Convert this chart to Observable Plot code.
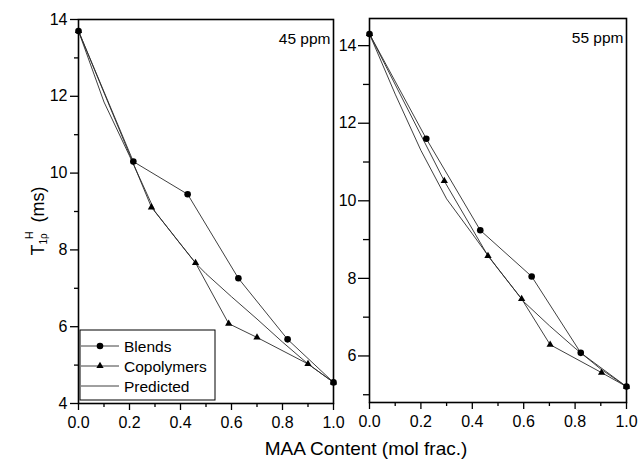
<!DOCTYPE html>
<html><head><meta charset="utf-8">
<script src="https://cdn.jsdelivr.net/npm/d3@7"></script>
<script src="https://cdn.jsdelivr.net/npm/@observablehq/plot@0.6"></script>
<style>
html,body{margin:0;padding:0;background:#fff;}
#wrap{position:relative;width:639px;height:461px;overflow:hidden;font-family:"Liberation Sans",Arial,sans-serif;}
#wrap > svg{position:absolute;}
</style></head><body><div id="wrap"></div>
<script>
// ---- data: 45 ppm panel ----
const xBlends45 = [0, 0.215, 0.428, 0.627, 0.82, 1.0];
const yBlends45 = [13.7, 10.3, 9.45, 7.26, 5.67, 4.55];
const xCopol45  = [0, 0.286, 0.459, 0.589, 0.70, 0.90, 1.0];
const yCopol45  = [13.7, 9.11, 7.66, 6.08, 5.72, 5.03, 4.55];
const xPred45   = [0, 0.1, 0.2, 0.3, 0.4, 0.46, 0.5, 0.6, 0.7, 0.8, 0.9, 1.0];
const yPred45   = [13.7, 11.85, 10.45, 9.0, 8.15, 7.65, 7.38, 6.78, 6.2, 5.6, 5.03, 4.55];
// ---- data: 55 ppm panel ----
const xBlends55 = [0, 0.221, 0.431, 0.631, 0.822, 1.0];
const yBlends55 = [14.3, 11.6, 9.24, 8.05, 6.08, 5.21];
const xCopol55  = [0, 0.291, 0.461, 0.592, 0.703, 0.903, 1.0];
const yCopol55  = [14.3, 10.51, 8.58, 7.47, 6.29, 5.57, 5.21];
const xPred55   = [0, 0.1, 0.2, 0.3, 0.4, 0.46, 0.5, 0.6, 0.7, 0.8, 0.9, 1.0];
const yPred55   = [14.3, 12.75, 11.3, 10.05, 9.15, 8.6, 8.25, 7.4, 6.78, 6.2, 5.66, 5.21];
// ---- ticks / labels ----
const xMajorTicks = [0, 0.2, 0.4, 0.6, 0.8, 1.0];
const xMinorTicks = [0.1, 0.3, 0.5, 0.7, 0.9];
const yMajor45 = [4, 6, 8, 10, 12, 14];
const yMinor45 = [5, 7, 9, 11, 13];
const yMajor55 = [6, 8, 10, 12, 14];
const yMinor55 = [5, 7, 9, 11, 13];
const seriesNames = ["Blends", "Copolymers", "Predicted"];
const panelLabels = ["45 ppm", "55 ppm"];
const xTitle = "MAA Content (mol frac.)";

const zip = (xs, ys) => xs.map((x, i) => ({x, y: ys[i]}));
const lineColor = "#2a2a2a";
const FONT = '"Liberation Sans", Arial, sans-serif';

function panel(o) {
  const bl = zip(o.bx, o.by), co = zip(o.cx, o.cy), pr = zip(o.px, o.py);
  const svg = Plot.plot({
    width: o.width, height: 425,
    marginLeft: o.ml, marginRight: o.mr, marginTop: o.mt, marginBottom: o.mb,
    x: {domain: [0, 1]},
    y: {domain: o.yDomain},
    style: {fontFamily: FONT, fontSize: "16px", color: "black", background: "transparent", overflow: "visible"},
    marks: [
      Plot.axisY({ticks: o.yMajor, tickSize: o.tsY, tickPadding: o.tpY, label: null, fontSize: 16, strokeWidth: 1.3}),
      Plot.axisY({ticks: o.yMinor, tickSize: o.tsYm, tickFormat: () => "", label: null, strokeWidth: 1.3}),
      Plot.axisX({ticks: xMajorTicks, tickSize: 7, tickPadding: 6, tickFormat: d3.format(".1f"), label: null, fontSize: 16, strokeWidth: 1.3}),
      Plot.axisX({ticks: xMinorTicks, tickSize: 4, tickFormat: () => "", label: null, strokeWidth: 1.3}),
      Plot.line(pr, {x: "x", y: "y", stroke: lineColor, strokeWidth: 0.9}),
      Plot.line(co, {x: "x", y: "y", stroke: lineColor, strokeWidth: 0.9}),
      Plot.line(bl, {x: "x", y: "y", stroke: lineColor, strokeWidth: 0.9}),
      Plot.dot(bl, {x: "x", y: "y", r: 3.3, fill: "black", symbol: "circle"}),
      Plot.dot(co, {x: "x", y: "y", r: 2.7, fill: "black", symbol: "triangle"}),
      Plot.text([o.label], {frameAnchor: "top-right", dx: -3, dy: 13, fontSize: 15.5, fill: "black"}),
      Plot.frame({stroke: "black", strokeWidth: 1.6})
    ]
  });
  svg.style.left = o.left + "px";
  svg.style.top = "0px";
  return svg;
}

const wrap = document.getElementById("wrap");
wrap.appendChild(panel({
  bx: xBlends45, by: yBlends45, cx: xCopol45, cy: yCopol45, px: xPred45, py: yPred45,
  yDomain: [4, 14], yMajor: yMajor45, yMinor: yMinor45, tsY: 8, tsYm: 4, tpY: 3,
  width: 340, ml: 78, mr: 7, mt: 19, mb: 22, left: 0, label: panelLabels[0]
}));
wrap.appendChild(panel({
  bx: xBlends55, by: yBlends55, cx: xCopol55, cy: yCopol55, px: xPred55, py: yPred55,
  yDomain: [4.8, 14.7], yMajor: yMajor55, yMinor: yMinor55, tsY: 11, tsYm: 6, tpY: 2,
  width: 309, ml: 39, mr: 13, mt: 18, mb: 23, left: 330, label: panelLabels[1]
}));

// ---- overlay: axis titles + legend ----
const ov = d3.select(wrap).append("svg")
  .attr("width", 639).attr("height", 461)
  .style("left", "0px").style("top", "0px")
  .style("font-family", FONT);

ov.append("text").attr("x", 366).attr("y", 455).attr("text-anchor", "middle")
  .attr("font-size", 19).attr("fill", "black").text(xTitle);

const yt = ov.append("text").attr("transform", "translate(44,221) rotate(-90)")
  .attr("text-anchor", "middle").attr("font-size", 18).attr("fill", "black");
yt.append("tspan").text("T");
yt.append("tspan").attr("font-size", 10).attr("dy", 3).text("1ρ");
yt.append("tspan").attr("font-size", 11).attr("dx", -6).attr("dy", -14).text("H");
yt.append("tspan").attr("dx", 4).attr("dy", 11).text(" (ms)");

const lg = ov.append("g");
lg.append("rect").attr("x", 80).attr("y", 330).attr("width", 135).attr("height", 70)
  .attr("fill", "white").attr("stroke", "black").attr("stroke-width", 1);
seriesNames.forEach((name, i) => {
  const cy = 346 + i * 20;
  lg.append("line").attr("x1", 81).attr("x2", 119).attr("y1", cy).attr("y2", cy)
    .attr("stroke", lineColor).attr("stroke-width", 0.9);
  if (i === 0) lg.append("circle").attr("cx", 100).attr("cy", cy).attr("r", 3.3).attr("fill", "black");
  if (i === 1) lg.append("path").attr("transform", `translate(100,${cy})`)
    .attr("d", d3.symbol(d3.symbolTriangle, 2.7 * 2.7 * Math.PI)()).attr("fill", "black");
  lg.append("text").attr("x", 124).attr("y", cy + 5.5).attr("font-size", 15.5).attr("fill", "black").text(name);
});
</script></body></html>
